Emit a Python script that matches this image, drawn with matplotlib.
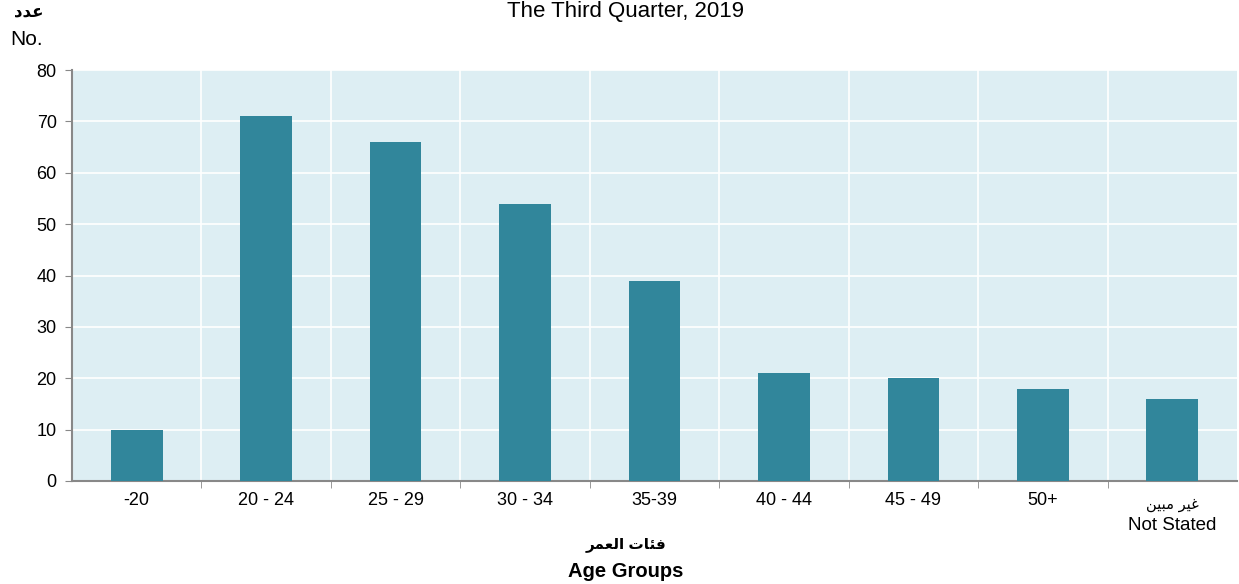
import numpy as np
import matplotlib
matplotlib.use('Agg')
import matplotlib.pyplot as plt

# data
ages = ['-20', '20 - 24', '25 - 29', '30 - 34', '35-39', '40 - 44', '45 - 49', '50+',
        'Not Stated']
not_stated_ar = '\uFEE6\uFEF4\uFE92\uFEE3 \uFEAE\uFEF4\uFECF'
counts = [10, 71, 66, 54, 39, 21, 20, 18, 16]

fonts = ['Liberation Sans', 'DejaVu Sans']
plt.rcParams['font.family'] = fonts

bar_color = '#31869B'
bg_color = '#DDEEF3'
axis_color = '#888888'

fig = plt.figure(figsize=(12.39, 5.84), dpi=100)
ax = fig.add_axes([0.0581, 0.1764, 0.9403, 0.7036])
ax.set_facecolor(bg_color)

x = np.arange(len(ages))
ax.bar(x, counts, width=0.4, color=bar_color, zorder=3)

ax.set_xlim(-0.5, len(ages) - 0.5)
ax.set_ylim(0, 80)
ax.set_yticks(range(0, 81, 10))
ax.tick_params(axis='y', labelsize=13, length=5, color=axis_color, pad=6)

# last label is two lines (arabic smaller), drawn separately
ax.set_xticks(x)
ax.set_xticklabels(ages[:-1] + [''], fontsize=13)
ax.annotate(not_stated_ar, xy=(x[-1], 0), xycoords=('data', 'axes fraction'),
            xytext=(0, -17), textcoords='offset points', ha='center', va='center',
            fontsize=10.5, family=['DejaVu Sans'])
ax.annotate(ages[-1], xy=(x[-1], 0), xycoords=('data', 'axes fraction'),
            xytext=(0, -32), textcoords='offset points', ha='center', va='center',
            fontsize=13.5)
ax.set_xticks(np.arange(0.5, len(ages) - 0.5, 1), minor=True)
ax.tick_params(axis='x', which='major', length=0, pad=8)
ax.tick_params(axis='x', which='minor', length=5, color=axis_color)

ax.grid(axis='y', color='white', linewidth=1.2, zorder=1)
ax.grid(axis='x', which='minor', color='white', linewidth=1.2, zorder=1)
ax.set_axisbelow(True)

for side in ['top', 'right']:
    ax.spines[side].set_visible(False)
for side in ['left', 'bottom']:
    ax.spines[side].set_color(axis_color)
    ax.spines[side].set_linewidth(1.5)

fig.text(0.505, 0.980, 'The Third Quarter, 2019', ha='center', va='center', fontsize=16)
fig.text(0.011, 0.981, '\uFEA9\uFEAA\uFECB', ha='left', va='center', fontsize=12,
         fontweight='bold', family=['DejaVu Sans'])
fig.text(0.008, 0.933, 'No.', ha='left', va='center', fontsize=15)

fig.text(0.505, 0.068, '\uFEAE\uFEE4\uFECC\uFEDF\uFE8D \uFE95\uFE8E\uFE8C\uFED3',
         ha='center', va='center', fontsize=11, fontweight='bold', family=fonts)
fig.text(0.505, 0.021, 'Age Groups', ha='center', va='center', fontsize=14.5,
         fontweight='bold')

fig.savefig('out.png', dpi=100)
